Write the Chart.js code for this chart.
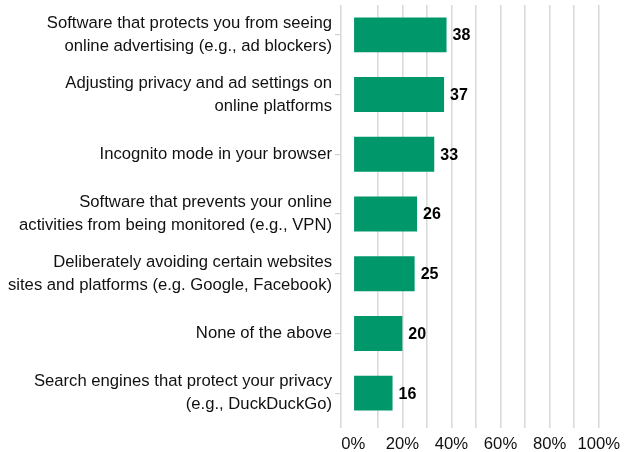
<!DOCTYPE html>
<html>
<head>
<meta charset="utf-8">
<script src="https://cdn.jsdelivr.net/npm/chart.js@4/dist/chart.umd.min.js"></script>
<style>
  html, body { margin: 0; padding: 0; background: #fff; }
  #wrap { width: 626px; height: 452px; position: relative; }
</style>
</head>
<body>
<div id="wrap"><canvas id="c" width="626" height="452"></canvas></div>
<script>
// Privacy tools used (share of respondents, %)
const categories = [
  ['Software that protects you from seeing', 'online advertising (e.g., ad blockers)'],
  ['Adjusting privacy and ad settings on', 'online platforms'],
  ['Incognito mode in your browser'],
  ['Software that prevents your online', 'activities from being monitored (e.g., VPN)'],
  ['Deliberately avoiding certain websites', 'sites and platforms (e.g. Google, Facebook)'],
  ['None of the above'],
  ['Search engines that protect your privacy', '(e.g., DuckDuckGo)']
];
const values = [38, 37, 33, 26, 25, 20, 16];
const tickValues = [0, 10, 20, 30, 40, 50, 60, 70, 80, 90, 100];
const tickLabels = ['0%', '', '20%', '', '40%', '', '60%', '', '80%', '', '100%'];

const FONT = "'Liberation Sans', Arial, sans-serif";

// Writes each bar's value just past its end
const valueLabels = {
  id: 'valueLabels',
  afterDatasetsDraw(chart) {
    const ctx = chart.ctx;
    const meta = chart.getDatasetMeta(0);
    ctx.save();
    ctx.font = 'bold 16px ' + FONT;
    ctx.fillStyle = '#000';
    ctx.textAlign = 'left';
    ctx.textBaseline = 'middle';
    meta.data.forEach((bar, i) => {
      ctx.fillText(String(values[i]), bar.x + 6, bar.y + 1);
    });
    ctx.restore();
  }
};

new Chart(document.getElementById('c'), {
  type: 'bar',
  data: {
    labels: categories,
    datasets: [{
      data: values,
      backgroundColor: '#00976A',
      borderWidth: 0,
      barPercentage: 0.9,
      categoryPercentage: 0.65
    }]
  },
  options: {
    indexAxis: 'y',
    responsive: false,
    animation: false,
    devicePixelRatio: 1,
    layout: { padding: { top: 5, right: 27, left: 0, bottom: 0 } },
    plugins: {
      legend: { display: false },
      tooltip: { enabled: false }
    },
    scales: {
      x: {
        type: 'linear',
        min: -5,
        max: 100,
        afterBuildTicks(scale) {
          scale.ticks = [-5].concat(tickValues).map(v => ({ value: v }));
        },
        afterFit(scale) { scale.height = 29; },
        grid: {
          color: ctx => (ctx.tick && ctx.tick.value === 0) ? 'rgba(0,0,0,0)' : '#dadada',
          lineWidth: 1.6,
          drawTicks: true,
          tickLength: 5
        },
        border: { display: false },
        ticks: {
          autoSkip: false,
          maxRotation: 0,
          padding: 6,
          color: '#111',
          font: { family: FONT, size: 16.67 },
          callback: (v) => {
            const i = tickValues.indexOf(v);
            return i >= 0 ? tickLabels[i] : '';
          }
        }
      },
      y: {
        type: 'category',
        afterFit(scale) {
          scale.width = 341;
          scale.paddingTop = 0;
          scale.paddingBottom = 0;
        },
        grid: {
          display: true,
          drawOnChartArea: false,
          drawTicks: true,
          tickLength: 6,
          offset: false,
          color: '#d2d2d2',
          lineWidth: 1.2
        },
        border: { display: false },
        ticks: {
          autoSkip: false,
          padding: 3,
          color: '#111',
          font: { family: FONT, size: 16.67, lineHeight: 1.38 }
        }
      }
    }
  },
  plugins: [valueLabels]
});
</script>
</body>
</html>
